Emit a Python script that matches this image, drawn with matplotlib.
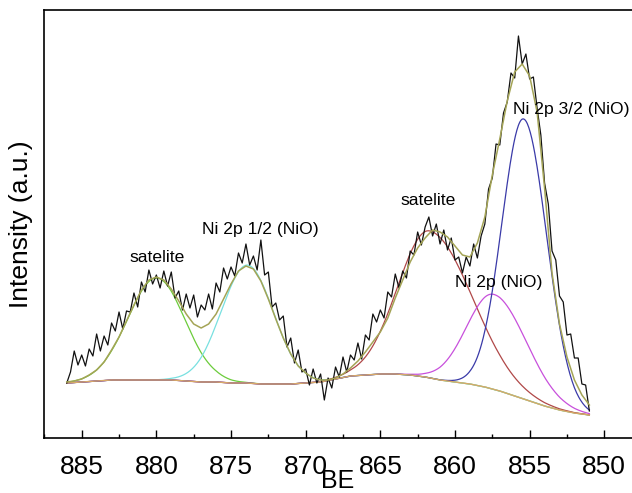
import numpy as np
import matplotlib
matplotlib.use("Agg")
import matplotlib.pyplot as plt
from matplotlib.ticker import MultipleLocator

plt.rcParams['font.family'] = ['Liberation Sans', 'DejaVu Sans']

# ---------------- data (arbitrary intensity units) ----------------
# measured Ni 2p spectrum, from 886 eV down to 851 eV in 0.25 eV steps
spectrum_be_start = 886.0
spectrum_be_step = -0.25
spectrum = [
    55, 66, 87, 73, 83, 72, 89, 82, 104, 87,
    102, 93, 115, 107, 126, 109, 127, 126, 145, 131,
    156, 146, 168, 154, 163, 150, 167, 152, 166, 140,
    147, 128, 144, 130, 143, 121, 133, 128, 144, 129,
    155, 146, 170, 159, 171, 162, 185, 175, 194, 173,
    182, 168, 198, 163, 166, 131, 135, 118, 122, 91,
    100, 75, 88, 66, 69, 53, 69, 55, 64, 38,
    60, 50, 71, 61, 81, 66, 83, 78, 95, 79,
    103, 98, 124, 116, 128, 120, 146, 141, 164, 150,
    167, 160, 187, 183, 206, 193, 211, 221, 202, 214,
    194, 208, 188, 200, 178, 181, 165, 181, 172, 194,
    180, 202, 214, 249, 260, 294, 293, 325, 336, 365,
    360, 402, 374, 384, 359, 361, 330, 303, 255, 234,
    187, 178, 142, 136, 103, 104, 80, 80, 54, 53,
    27,
]

# fitted envelope, 886 -> 851 eV in 0.5 eV steps
envelope_be_start = 886.0
envelope_be_step = -0.5
envelope = [
    56, 57, 59, 63, 68, 76, 88, 101, 117, 133,
    148, 158, 161, 158, 149, 137, 124, 114, 110, 114,
    124, 139, 154, 167, 172, 169, 157, 139, 119, 100,
    84, 72, 65, 60, 58, 58, 60, 64, 70, 77,
    86, 96, 106, 120, 140, 158, 176, 190, 200, 208,
    206, 201, 192, 183, 181, 195, 221, 263, 299, 337,
    366, 374, 362, 326, 250, 165, 114, 81, 58, 43,
    33,
]

# background, 886 -> 851 eV in 1 eV steps
background_be = list(range(886, 850, -1))
background = [
    55, 56, 57, 58, 58, 58, 58, 58, 57, 56,
    56, 55, 55, 54, 54, 54, 55, 56, 59, 62,
    63, 64, 64, 63, 61, 58, 56, 54, 51, 47,
    42, 37, 32, 28, 25, 23,
]

# fitted components (peak parameters)
peak_names = ["satelite 1/2", "Ni 2p 1/2", "satelite 3/2", "Ni 2p (NiO)", "Ni 2p 3/2"]
peak_center = [880.0, 873.9, 861.7, 857.4, 855.4]
peak_height = [102, 118, 147, 95, 280]
peak_width_high_be = [1.9, 1.75, 2.1, 1.8, 1.45]
peak_width_low_be = [1.9, 1.75, 2.8, 2.2, 1.55]

labels = ["satelite", "Ni 2p 1/2 (NiO)", "satelite", "Ni 2p (NiO)", "Ni 2p 3/2 (NiO)"]
label_be = [881.83, 876.94, 863.68, 860.0, 856.13]
label_h = [176, 204, 233, 151, 324]

x_ticks = [885, 880, 875, 870, 865, 860, 855, 850]

# ---------------- styles ----------------
peak_colors = ["#6ccc3c", "#78e0e0", "#b04848", "#c850dc", "#3a3aa8"]
env_color = "#a4a456"
bg_color = "#d8a868"

# ---------------- figure ----------------
W, H = 632, 493
fig = plt.figure(figsize=(W / 100, H / 100), dpi=100)
ax_left, ax_right, ax_top, ax_bottom = 44, 632, 10, 438
ax = fig.add_axes([ax_left / W, (H - ax_bottom) / H,
                   (ax_right - ax_left) / W, (ax_bottom - ax_top) / H])

be_spec = spectrum_be_start + spectrum_be_step * np.arange(len(spectrum))
be_env = envelope_be_start + envelope_be_step * np.arange(len(envelope))

fine_be = np.linspace(be_spec[0], be_spec[-1], 700)
bg_fine = np.interp(fine_be, background_be[::-1], background[::-1])

for c, a, sh, sl, col in zip(peak_center, peak_height, peak_width_high_be,
                             peak_width_low_be, peak_colors):
    s = np.where(fine_be > c, sh, sl)
    comp = bg_fine + a * np.exp(-(fine_be - c) ** 2 / (2 * s ** 2))
    ax.plot(fine_be, comp, color=col, lw=0.9, zorder=3)
ax.plot(background_be, background, color=bg_color, lw=1.0, zorder=3.5)

ax.plot(be_spec, spectrum, color="#111111", lw=0.9, zorder=4)
ax.plot(be_env, envelope, color=env_color, lw=1.1, zorder=5)

for t, bx, by in zip(labels, label_be, label_h):
    ax.text(bx, by, t, fontsize=12.6, ha="left", va="baseline", color="black", zorder=6)

x_left = 885 + (81.7 - ax_left) / 14.93
x_right = 850 - (ax_right - 604.3) / 14.93
ax.set_xlim(x_left, x_right)
ax.set_ylim(0, ax_bottom - ax_top)

ax.set_xticks(x_ticks)
ax.xaxis.set_minor_locator(MultipleLocator(2.5))
ax.set_yticks([])
ax.tick_params(axis="x", which="major", direction="in", length=6, width=1.0,
               labelsize=19, pad=12, top=False)
ax.tick_params(axis="x", which="minor", direction="in", length=3, width=1.0, top=False)
for s in ["left", "bottom", "top"]:
    ax.spines[s].set_linewidth(1.2)
ax.spines["right"].set_visible(False)

ax.set_xlabel("BE", fontsize=18, labelpad=-7)
ax.set_ylabel("Intensity (a.u.)", fontsize=19, labelpad=8)

fig.savefig("out.png", dpi=100)
